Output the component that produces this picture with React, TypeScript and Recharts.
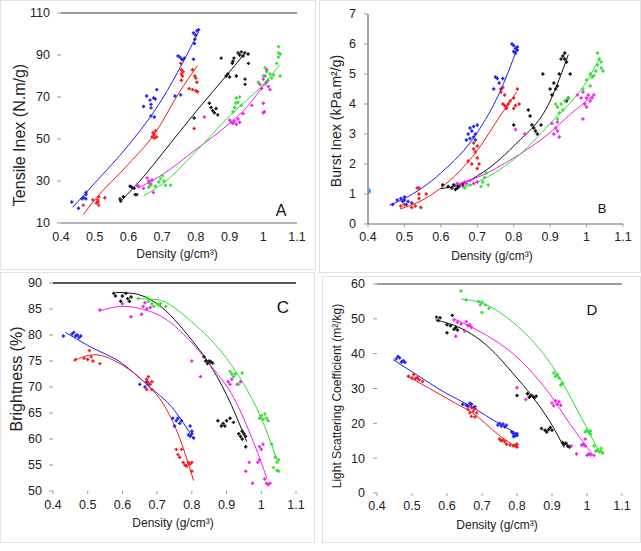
import React from "react";
import { ComposedChart, Scatter, Line, XAxis, YAxis, ReferenceLine } from "recharts";

type P = [number, number];

// shared axis ticks
const densityTicks = [0.4, 0.5, 0.6, 0.7, 0.8, 0.9, 1.0, 1.1];
const tensileTicks = [10, 30, 50, 70, 90, 110];
const burstTicks = [0, 1, 2, 3, 4, 5, 6, 7];
const brightnessTicks = [50, 55, 60, 65, 70, 75, 80, 85, 90];
const scatteringTicks = [0, 10, 20, 30, 40, 50, 60];

const BLUE = "#1f1ff2";
const RED = "#f01c1c";
const BLACK = "#111111";
const MAGENTA = "#f020f0";
const GREEN = "#2fe02f";

// ---- A: tensile index ----
const aBlue: P[] = [[0.432, 20], [0.452, 17], [0.462, 21.5], [0.468, 22], [0.474, 23.5], [0.474, 24.5], [0.474, 21.5], [0.645, 65.5], [0.654, 70.5], [0.664, 68.5], [0.667, 66.5], [0.667, 64.8], [0.667, 61], [0.677, 60.5], [0.675, 69.5], [0.68, 69], [0.684, 73.5], [0.738, 70.5], [0.755, 71], [0.747, 89.5], [0.753, 89], [0.758, 88], [0.762, 87.8], [0.766, 88.5], [0.793, 100.5], [0.799, 99.5], [0.803, 101.5], [0.808, 102], [0.797, 97.5], [0.796, 95.5], [0.793, 88]];
const aRed: P[] = [[0.466, 18.5], [0.494, 21], [0.505, 19.5], [0.51, 20], [0.512, 18.5], [0.508, 21], [0.512, 22.5], [0.53, 22], [0.67, 51], [0.673, 53], [0.676, 52], [0.68, 54], [0.684, 51], [0.677, 50.5], [0.755, 86], [0.757, 83], [0.757, 81], [0.76, 80], [0.762, 82], [0.757, 78], [0.79, 83], [0.797, 80], [0.8, 79], [0.803, 77], [0.78, 74], [0.79, 73.5], [0.8, 73], [0.805, 72.5], [0.795, 55]];
const aBlack: P[] = [[0.575, 21.5], [0.577, 20.5], [0.585, 22.5], [0.605, 27.5], [0.61, 27], [0.617, 26.5], [0.62, 23.5], [0.625, 23.5], [0.795, 60], [0.84, 67], [0.845, 65], [0.85, 63.5], [0.855, 62.5], [0.86, 64.5], [0.865, 61.5], [0.875, 88.5], [0.89, 80], [0.895, 81], [0.9, 79.5], [0.908, 86], [0.91, 87], [0.913, 88.5], [0.92, 80], [0.925, 91], [0.93, 90], [0.935, 91.5], [0.94, 89.5], [0.945, 91], [0.946, 78.5], [0.946, 76], [0.956, 86], [0.955, 90.5]];
const aMagenta: P[] = [[0.625, 28], [0.63, 27.5], [0.645, 26.5], [0.655, 31.5], [0.66, 30], [0.662, 29], [0.667, 28.5], [0.67, 30.5], [0.674, 24.5], [0.825, 60.5], [0.9, 59], [0.905, 58], [0.91, 57.5], [0.915, 58.5], [0.92, 57], [0.925, 59.5], [0.93, 58], [0.94, 62], [0.966, 66], [0.99, 76], [0.995, 74], [1.0, 78.5], [1.005, 80], [1.01, 83], [1.0, 67], [1.003, 63], [1.0, 62.5], [1.01, 77], [1.015, 75], [1.02, 73.5]];
const aGreen: P[] = [[0.66, 27], [0.665, 28], [0.68, 27.5], [0.69, 29.5], [0.695, 31], [0.7, 32.5], [0.705, 30], [0.71, 28], [0.725, 28], [0.91, 63], [0.915, 65], [0.918, 67], [0.92, 69.5], [0.925, 67.5], [0.93, 70], [0.935, 66], [0.985, 77], [1.0, 80], [1.005, 76], [1.01, 82], [1.015, 78], [1.02, 81], [1.025, 79], [1.03, 80.5], [1.04, 86], [1.045, 89], [1.045, 91], [1.05, 90.5], [1.045, 94], [1.05, 80], [1.005, 84]];
const aBlueFit: P[] = [[0.435, 17.5], [0.5, 29], [0.6, 47], [0.7, 69], [0.76, 86], [0.808, 101]];
const aRedFit: P[] = [[0.466, 14], [0.5, 21], [0.6, 38], [0.68, 53], [0.75, 72], [0.805, 85]];
const aBlackFit: P[] = [[0.575, 20], [0.65, 33], [0.7, 43], [0.8, 63], [0.9, 82], [0.946, 91]];
const aMagentaFit: P[] = [[0.627, 26.5], [0.7, 33], [0.8, 45], [0.9, 57.5], [0.95, 65], [1.011, 78]];
const aGreenFit: P[] = [[0.645, 23], [0.7, 28.5], [0.8, 44], [0.9, 61], [1.0, 76], [1.05, 85.5]];

// ---- B: burst index ----
const bBlue: P[] = [[0.468, 0.65], [0.48, 0.8], [0.49, 0.85], [0.495, 0.75], [0.5, 0.8], [0.5, 0.9], [0.505, 0.65], [0.51, 0.75], [0.52, 0.7], [0.67, 2.8], [0.675, 3.0], [0.68, 3.2], [0.685, 3.1], [0.69, 2.9], [0.69, 3.25], [0.695, 3.0], [0.7, 3.3], [0.68, 2.85], [0.695, 2.8], [0.745, 4.5], [0.75, 4.9], [0.755, 4.85], [0.76, 4.7], [0.765, 4.5], [0.77, 4.85], [0.795, 6.0], [0.8, 5.95], [0.805, 5.85], [0.8, 5.75], [0.81, 5.8], [0.805, 5.7], [0.81, 5.9]];
const bRed: P[] = [[0.49, 0.6], [0.5, 0.65], [0.52, 0.55], [0.53, 0.6], [0.535, 1.2], [0.54, 1.2], [0.54, 1.0], [0.54, 0.85], [0.545, 0.55], [0.56, 1.0], [0.675, 2.1], [0.685, 2.0], [0.69, 2.5], [0.695, 2.4], [0.7, 2.6], [0.7, 2.2], [0.705, 2.0], [0.7, 1.85], [0.69, 2.7], [0.765, 4.4], [0.77, 4.55], [0.775, 4.3], [0.77, 4.0], [0.775, 3.95], [0.78, 3.85], [0.785, 4.0], [0.79, 4.1], [0.8, 4.2], [0.805, 3.95], [0.81, 4.5], [0.815, 4.0], [0.8, 3.85], [0.78, 3.9]];
const bBlack: P[] = [[0.605, 1.3], [0.62, 1.25], [0.63, 1.2], [0.635, 1.3], [0.64, 1.15], [0.645, 1.2], [0.65, 1.25], [0.66, 1.3], [0.8, 3.3], [0.84, 3.8], [0.845, 3.6], [0.85, 3.3], [0.855, 3.2], [0.86, 3.1], [0.865, 3.0], [0.875, 3.3], [0.88, 5.0], [0.9, 4.5], [0.905, 4.3], [0.91, 4.7], [0.915, 4.5], [0.92, 4.6], [0.925, 5.0], [0.93, 5.5], [0.935, 5.6], [0.94, 5.5], [0.94, 5.7], [0.945, 5.4], [0.955, 5.0], [0.95, 4.2], [0.945, 4.1]];
const bMagenta: P[] = [[0.645, 1.35], [0.655, 1.3], [0.665, 1.4], [0.67, 1.35], [0.68, 1.45], [0.69, 1.35], [0.7, 1.4], [0.805, 3.15], [0.83, 3.0], [0.905, 3.35], [0.91, 3.0], [0.915, 3.2], [0.92, 3.1], [0.925, 2.9], [0.92, 3.4], [0.975, 4.3], [0.985, 4.2], [0.99, 3.5], [0.995, 4.0], [1.0, 4.2], [1.005, 4.3], [1.01, 4.1], [1.015, 4.2], [1.02, 4.3], [1.0, 3.9], [0.99, 4.4]];
const bGreen: P[] = [[0.665, 1.2], [0.68, 1.3], [0.71, 1.25], [0.715, 1.4], [0.72, 1.55], [0.725, 1.7], [0.73, 1.3], [0.915, 4.0], [0.92, 3.9], [0.925, 3.7], [0.93, 4.0], [0.92, 3.5], [0.935, 3.8], [0.94, 4.1], [0.95, 4.2], [0.99, 4.5], [1.0, 4.8], [1.01, 5.0], [1.015, 4.9], [1.02, 4.95], [1.025, 5.1], [1.03, 5.7], [1.035, 5.5], [1.04, 5.4], [1.04, 5.2], [1.045, 5.1], [1.03, 5.3], [1.01, 4.6]];
const bExtra: P[] = [[0.4, 1.1]];
const bBlueFit: P[] = [[0.459, 0.63], [0.5, 0.85], [0.6, 1.7], [0.7, 3.05], [0.76, 4.35], [0.808, 5.8]];
const bRedFit: P[] = [[0.488, 0.5], [0.55, 0.8], [0.6, 1.2], [0.7, 2.45], [0.76, 3.55], [0.808, 4.4]];
const bBlackFit: P[] = [[0.6, 1.18], [0.65, 1.3], [0.7, 1.6], [0.8, 2.6], [0.9, 4.1], [0.95, 5.65]];
const bMagentaFit: P[] = [[0.635, 1.3], [0.7, 1.55], [0.8, 2.2], [0.9, 3.05], [0.95, 3.6], [1.02, 4.3]];
const bGreenFit: P[] = [[0.657, 1.2], [0.7, 1.4], [0.8, 2.15], [0.9, 3.35], [1.0, 4.75], [1.035, 5.5]];

// ---- C: brightness ----
const cBlue: P[] = [[0.43, 79.8], [0.455, 80.2], [0.46, 80.5], [0.465, 79.8], [0.47, 80.0], [0.475, 79.5], [0.48, 79.8], [0.65, 70.5], [0.665, 70.0], [0.67, 71], [0.675, 70.5], [0.745, 64], [0.75, 62.5], [0.755, 63.5], [0.76, 64], [0.765, 63], [0.77, 63.5], [0.795, 62.5], [0.8, 61], [0.795, 60.5], [0.805, 60.2], [0.8, 61.5], [0.79, 60.8]];
const cRed: P[] = [[0.465, 75.3], [0.49, 75.5], [0.5, 75.3], [0.505, 77], [0.51, 75.8], [0.515, 75], [0.535, 74.5], [0.67, 71.5], [0.675, 72], [0.68, 70.5], [0.685, 71], [0.67, 69.5], [0.685, 69.5], [0.675, 70.8], [0.755, 58], [0.76, 57], [0.765, 56.5], [0.77, 58], [0.775, 55.5], [0.78, 55], [0.785, 54.8], [0.79, 55.5], [0.795, 55.2], [0.8, 55.5], [0.8, 53.8]];
const cBlack: P[] = [[0.575, 88], [0.58, 87.5], [0.595, 86.5], [0.6, 87.5], [0.61, 88], [0.615, 87], [0.62, 86.5], [0.625, 87.3], [0.835, 75.8], [0.84, 75], [0.845, 74.5], [0.85, 75], [0.855, 74.8], [0.86, 74.6], [0.875, 63.5], [0.885, 62.5], [0.89, 63], [0.895, 62.5], [0.9, 63.5], [0.91, 64], [0.92, 63.2], [0.935, 61], [0.94, 60.5], [0.945, 60], [0.95, 61], [0.955, 60.5], [0.955, 58.5], [0.945, 61.5]];
const cMagenta: P[] = [[0.535, 84.8], [0.6, 86], [0.625, 83.5], [0.655, 84], [0.66, 85.5], [0.67, 85], [0.68, 85.3], [0.665, 86.2], [0.8, 75], [0.825, 72], [0.905, 71], [0.91, 70.5], [0.915, 71.5], [0.93, 70.5], [0.94, 71], [0.965, 55.5], [0.955, 53.8], [0.975, 51.5], [0.99, 55.5], [0.995, 56], [1.0, 58], [1.005, 59], [1.01, 52.3], [1.015, 51.5], [1.02, 51.2], [1.025, 51.5], [0.995, 58.5]];
const cGreen: P[] = [[0.645, 87], [0.67, 87.2], [0.675, 86.5], [0.685, 86], [0.69, 85.5], [0.7, 86], [0.705, 85.7], [0.71, 86], [0.725, 85.5], [0.91, 73], [0.915, 72.5], [0.92, 72], [0.925, 72.5], [0.935, 70.5], [0.945, 72.7], [0.995, 64], [1.0, 64.5], [1.005, 63.8], [1.01, 64.8], [1.015, 64], [1.02, 63.5], [1.03, 59], [1.04, 56.5], [1.045, 55.5], [1.05, 56], [1.045, 54], [1.05, 53.8], [1.035, 54.5]];
const cBlueFit: P[] = [[0.436, 80.5], [0.5, 78], [0.6, 74.5], [0.67, 70.5], [0.75, 65.5], [0.805, 60]];
const cRedFit: P[] = [[0.458, 75], [0.52, 76.2], [0.6, 74.2], [0.67, 70.5], [0.72, 66.5], [0.76, 61], [0.805, 52]];
const cBlackFit: P[] = [[0.58, 88.2], [0.63, 88], [0.7, 86], [0.8, 79], [0.85, 74.5], [0.9, 68.5], [0.958, 59.5]];
const cMagentaFit: P[] = [[0.532, 84.6], [0.6, 85.5], [0.7, 84], [0.8, 78.5], [0.85, 74.5], [0.92, 68], [0.98, 59], [1.016, 52.5]];
const cGreenFit: P[] = [[0.645, 87], [0.7, 86.8], [0.8, 82.5], [0.9, 75.5], [0.95, 70.5], [1.0, 64], [1.045, 56]];

// ---- D: light scattering coefficient ----
const dBlue: P[] = [[0.455, 38.5], [0.46, 39.2], [0.465, 38.8], [0.47, 37.6], [0.48, 37.5], [0.475, 38], [0.645, 25.5], [0.655, 25.2], [0.66, 24.8], [0.665, 25.8], [0.67, 25.5], [0.675, 24.5], [0.68, 24.8], [0.745, 19.5], [0.75, 20], [0.755, 19.2], [0.76, 19.8], [0.765, 19], [0.77, 19.5], [0.79, 17], [0.795, 16.5], [0.8, 17], [0.79, 16.2], [0.8, 16.5], [0.785, 17.5]];
const dRed: P[] = [[0.49, 33.5], [0.5, 33], [0.505, 34], [0.51, 32.8], [0.515, 33.2], [0.52, 32.5], [0.53, 32], [0.66, 24], [0.665, 23], [0.67, 22], [0.675, 23.5], [0.68, 24.2], [0.68, 21.8], [0.685, 23], [0.67, 24.5], [0.75, 15.5], [0.755, 15], [0.76, 15.2], [0.765, 14.8], [0.77, 14], [0.78, 13.8], [0.79, 13.5], [0.795, 13.8], [0.8, 13.2], [0.8, 14]];
const dBlack: P[] = [[0.57, 50.5], [0.575, 49.5], [0.58, 50.3], [0.6, 48.3], [0.6, 46], [0.61, 48], [0.615, 51], [0.62, 47], [0.625, 47.5], [0.63, 46.8], [0.8, 28], [0.83, 28.5], [0.835, 27.5], [0.84, 28], [0.845, 27.8], [0.85, 27.3], [0.855, 27.8], [0.87, 18.5], [0.88, 18], [0.885, 17.5], [0.89, 18.2], [0.895, 18.8], [0.9, 18], [0.93, 14.5], [0.935, 14], [0.94, 14.3], [0.945, 13.5], [0.95, 13.2]];
const dMagenta: P[] = [[0.62, 49.7], [0.625, 45], [0.63, 49], [0.64, 48.5], [0.65, 46.5], [0.655, 49.2], [0.66, 48], [0.665, 48.3], [0.67, 47.5], [0.8, 30.2], [0.825, 26.8], [0.9, 25.8], [0.905, 25], [0.91, 26.5], [0.915, 25.5], [0.92, 26.2], [0.925, 25.2], [0.955, 13.5], [0.97, 11.2], [0.985, 13.8], [0.99, 14], [0.995, 15.5], [1.0, 10.8], [1.005, 11.2], [1.01, 11], [1.02, 10.8], [0.995, 13.5]];
const dGreen: P[] = [[0.64, 58], [0.655, 55.5], [0.69, 55], [0.695, 54], [0.7, 54.8], [0.7, 51.8], [0.71, 54], [0.72, 53], [0.905, 34.5], [0.91, 33.5], [0.915, 34], [0.92, 33], [0.925, 31], [0.93, 31.5], [0.995, 17.5], [1.0, 18], [1.005, 17.5], [1.01, 17.8], [1.01, 16.8], [1.02, 13.5], [1.025, 12], [1.03, 12.5], [1.035, 11.8], [1.04, 12], [1.045, 11.5], [1.04, 12.8]];
const dBlueFit: P[] = [[0.446, 38.3], [0.5, 34.8], [0.6, 28.5], [0.67, 24.8], [0.75, 19.8], [0.8, 17.1]];
const dRedFit: P[] = [[0.488, 33.5], [0.55, 30], [0.62, 26], [0.67, 23.2], [0.75, 16.5], [0.8, 13]];
const dBlackFit: P[] = [[0.567, 49.7], [0.64, 47.3], [0.7, 43.5], [0.8, 33], [0.86, 25.5], [0.9, 19.5], [0.935, 13]];
const dMagentaFit: P[] = [[0.62, 50], [0.7, 46], [0.8, 39], [0.9, 27.5], [0.95, 20], [1.02, 10.5]];
const dGreenFit: P[] = [[0.64, 55.7], [0.7, 54.5], [0.8, 48], [0.9, 36.5], [0.95, 28], [1.0, 18.5], [1.035, 11.8]];

const toXY = (a: P[]) => a.map(([x, y]) => ({ x, y }));

const plus = (color: string) => (props: any) => {
  const { cx, cy } = props;
  if (cx == null || cy == null) return <g />;
  return (
    <path
      d={`M${cx - 1.7} ${cy}h3.4M${cx} ${cy - 1.7}v3.4`}
      stroke={color}
      strokeWidth={1.4}
      fill="none"
    />
  );
};

const dot = (props: any) => {
  const { cx, cy } = props;
  if (cx == null || cy == null) return <g />;
  return <circle cx={cx} cy={cy} r={3} fill="#5b9bd5" />;
};

const fmtDensity = (v: number) => String(Number(v.toFixed(1)));

type Group = { color: string; pts: P[]; fit: P[] };
type Txt = { x: number; y: number; text: string; size: number };

type PanelProps = {
  left: number;
  top: number;
  width: number;
  height: number;
  plotTop: number;
  plotRight: number;
  yWidth: number;
  xHeight: number;
  yDomain: [number, number];
  yTicks: number[];
  groups: Group[];
  extra?: P[];
  topLine?: string;
  xAxisLine?: boolean;
  yAxisLine?: boolean;
  xTickLine?: boolean;
  xTickMargin: number;
  yTickMargin: number;
  xTitle: Txt;
  yTitle: Txt;
  letter: Txt;
};

function Panel(p: PanelProps) {
  const axisColor = "#6b6b6b";
  return (
    <>
      <div
        style={{
          position: "absolute",
          left: p.left,
          top: p.top,
          width: p.width,
          height: p.height,
          border: "1px solid #e2e2e2",
          boxSizing: "border-box",
        }}
      />
      <div style={{ position: "absolute", left: p.left, top: p.top }}>
        <ComposedChart
          width={p.width}
          height={p.height}
          margin={{ top: p.plotTop, right: p.plotRight, bottom: 0, left: 0 }}
        >
          <XAxis
            type="number"
            dataKey="x"
            domain={[0.4, 1.1]}
            ticks={densityTicks}
            tickFormatter={fmtDensity}
            height={p.xHeight}
            axisLine={p.xAxisLine ? { stroke: axisColor, strokeWidth: 1.2 } : false}
            tickLine={p.xTickLine ? { stroke: "#999" } : false}
            tickSize={3}
            tickMargin={p.xTickMargin}
            tick={{ fontSize: 12.5, fill: "#222" }}
            allowDataOverflow
          />
          <YAxis
            type="number"
            dataKey="y"
            domain={p.yDomain}
            ticks={p.yTicks}
            width={p.yWidth}
            axisLine={p.yAxisLine ? { stroke: axisColor, strokeWidth: 1.2 } : false}
            tickLine={{ stroke: "#999" }}
            tickSize={4}
            tickMargin={p.yTickMargin}
            tick={{ fontSize: 12.5, fill: "#222" }}
            allowDataOverflow
          />
          {p.topLine && (
            <ReferenceLine y={p.yDomain[1]} stroke={p.topLine} strokeWidth={1.3} />
          )}
          {p.groups.map((g, i) => (
            <Line
              key={"f" + i}
              data={toXY(g.fit)}
              dataKey="y"
              type="monotone"
              stroke={g.color}
              strokeWidth={1}
              dot={false}
              activeDot={false}
              isAnimationActive={false}
            />
          ))}
          {p.groups.map((g, i) => (
            <Scatter
              key={"s" + i}
              data={toXY(g.pts)}
              shape={plus(g.color)}
              isAnimationActive={false}
            />
          ))}
          {p.extra && (
            <Scatter data={toXY(p.extra)} shape={dot} isAnimationActive={false} />
          )}
        </ComposedChart>
      </div>
      <div
        style={{
          position: "absolute",
          left: p.xTitle.x,
          top: p.xTitle.y,
          transform: "translate(-50%, -50%)",
          fontSize: p.xTitle.size,
          whiteSpace: "nowrap",
          lineHeight: 1,
          color: "#222",
        }}
      >
        {p.xTitle.text}
      </div>
      <div
        style={{
          position: "absolute",
          left: p.yTitle.x,
          top: p.yTitle.y,
          transform: "translate(-50%, -50%) rotate(-90deg)",
          fontSize: p.yTitle.size,
          whiteSpace: "nowrap",
          lineHeight: 1,
          color: "#222",
        }}
      >
        {p.yTitle.text}
      </div>
      <div
        style={{
          position: "absolute",
          left: p.letter.x,
          top: p.letter.y,
          transform: "translate(-50%, -50%)",
          fontSize: p.letter.size,
          lineHeight: 1,
          color: "#111",
        }}
      >
        {p.letter.text}
      </div>
    </>
  );
}

export default function App() {
  return (
    <div
      style={{
        position: "relative",
        width: 641,
        height: 551,
        background: "#fff",
        fontFamily: "'Liberation Sans', Arial, sans-serif",
        overflow: "hidden",
      }}
    >
      <style>{"body{margin:0}"}</style>
      <Panel
        left={0}
        top={0}
        width={316}
        height={270}
        plotTop={13}
        plotRight={19}
        yWidth={61}
        xHeight={47}
        yDomain={[10, 110]}
        yTicks={tensileTicks}
        topLine="#7a7a7a"
        xAxisLine
        xTickMargin={6}
        yTickMargin={7}
        groups={[
          { color: BLUE, pts: aBlue, fit: aBlueFit },
          { color: RED, pts: aRed, fit: aRedFit },
          { color: BLACK, pts: aBlack, fit: aBlackFit },
          { color: MAGENTA, pts: aMagenta, fit: aMagentaFit },
          { color: GREEN, pts: aGreen, fit: aGreenFit },
        ]}
        xTitle={{ x: 177, y: 254, text: "Density (g/cm³)", size: 12 }}
        yTitle={{ x: 20, y: 135, text: "Tensile Inex (N.m/g)", size: 16 }}
        letter={{ x: 281, y: 211, text: "A", size: 16 }}
      />
      <Panel
        left={319}
        top={0}
        width={322}
        height={273}
        plotTop={14}
        plotRight={18}
        yWidth={49}
        xHeight={49}
        yDomain={[0, 7]}
        yTicks={burstTicks}
        xAxisLine
        yAxisLine
        xTickLine
        xTickMargin={5}
        yTickMargin={8}
        groups={[
          { color: BLUE, pts: bBlue, fit: bBlueFit },
          { color: RED, pts: bRed, fit: bRedFit },
          { color: BLACK, pts: bBlack, fit: bBlackFit },
          { color: MAGENTA, pts: bMagenta, fit: bMagentaFit },
          { color: GREEN, pts: bGreen, fit: bGreenFit },
        ]}
        extra={bExtra}
        xTitle={{ x: 492, y: 256, text: "Density (g/cm³)", size: 12 }}
        yTitle={{ x: 336, y: 121, text: "Burst Inex (kPa.m²/g)", size: 14 }}
        letter={{ x: 602, y: 208, text: "B", size: 13 }}
      />
      <Panel
        left={0}
        top={272}
        width={315}
        height={271}
        plotTop={11}
        plotRight={19}
        yWidth={53}
        xHeight={52}
        yDomain={[50, 90]}
        yTicks={brightnessTicks}
        topLine="#222222"
        xTickLine
        xTickMargin={6}
        yTickMargin={7}
        groups={[
          { color: BLUE, pts: cBlue, fit: cBlueFit },
          { color: RED, pts: cRed, fit: cRedFit },
          { color: BLACK, pts: cBlack, fit: cBlackFit },
          { color: MAGENTA, pts: cMagenta, fit: cMagentaFit },
          { color: GREEN, pts: cGreen, fit: cGreenFit },
        ]}
        xTitle={{ x: 173, y: 523, text: "Density (g/cm³)", size: 12 }}
        yTitle={{ x: 17, y: 379, text: "Brightness (%)", size: 16 }}
        letter={{ x: 283, y: 307, text: "C", size: 17 }}
      />
      <Panel
        left={322}
        top={276}
        width={319}
        height={267}
        plotTop={8}
        plotRight={19}
        yWidth={55}
        xHeight={50}
        yDomain={[0, 60]}
        yTicks={scatteringTicks}
        topLine="#7a7a7a"
        xTickLine
        xTickMargin={5}
        yTickMargin={8}
        groups={[
          { color: BLUE, pts: dBlue, fit: dBlueFit },
          { color: RED, pts: dRed, fit: dRedFit },
          { color: BLACK, pts: dBlack, fit: dBlackFit },
          { color: MAGENTA, pts: dMagenta, fit: dMagentaFit },
          { color: GREEN, pts: dGreen, fit: dGreenFit },
        ]}
        xTitle={{ x: 497, y: 525, text: "Density (g/cm³)", size: 12 }}
        yTitle={{ x: 337, y: 396, text: "Light Scattering Coefficient (m²/kg)", size: 12 }}
        letter={{ x: 592, y: 309, text: "D", size: 15 }}
      />
    </div>
  );
}
